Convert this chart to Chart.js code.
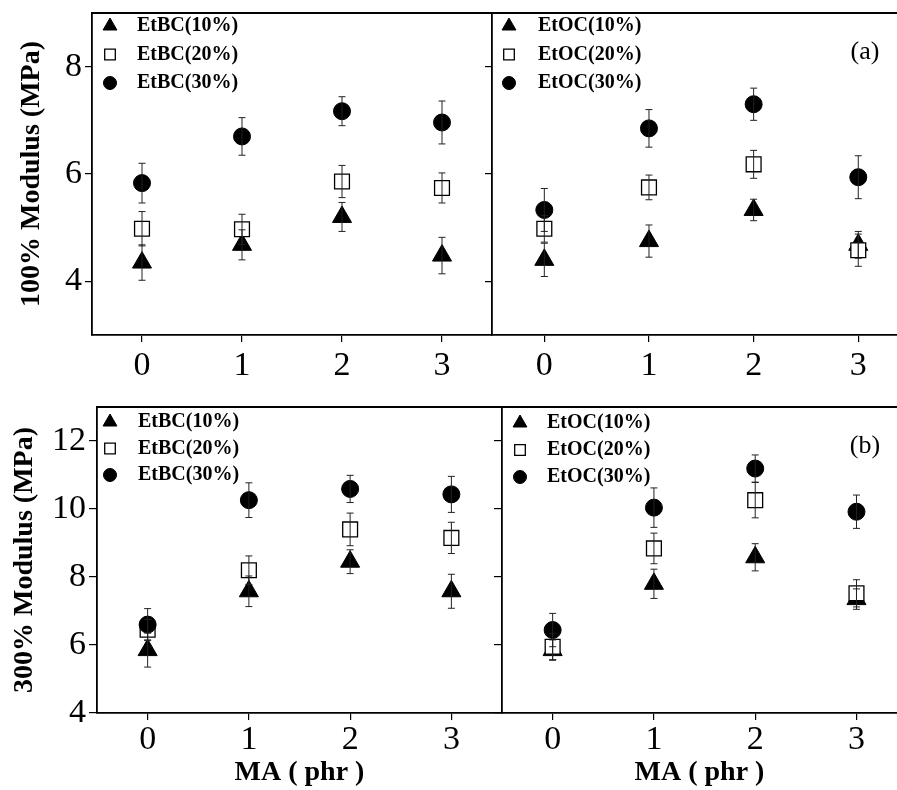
<!DOCTYPE html>
<html>
<head>
<meta charset="utf-8">
<script src="https://cdn.jsdelivr.net/npm/chart.js"></script>
<style>
  body { margin: 0; background: #fff; }
  #wrap { position: relative; width: 897px; height: 790px; overflow: hidden; background: #fff; }
  canvas { position: absolute; }
</style>
</head>
<body>
<div id="wrap">
  <canvas id="chartTL" width="500" height="385" style="left:0;top:0"></canvas>
  <canvas id="chartTR" width="457" height="385" style="left:440px;top:0"></canvas>
  <canvas id="chartBL" width="510" height="405" style="left:0;top:385px"></canvas>
  <canvas id="chartBR" width="457" height="405" style="left:440px;top:385px"></canvas>
</div>
<script>
// MA content (phr)
const maLevels = [0, 1, 2, 3];
const xTicks = [0, 1, 2, 3];
const ticks100 = [4, 6, 8];
const ticks300 = [4, 6, 8, 10, 12];

const etbcLabels = ["EtBC(10%)", "EtBC(20%)", "EtBC(30%)"];
const etocLabels = ["EtOC(10%)", "EtOC(20%)", "EtOC(30%)"];

// 100% modulus (MPa), EtBC
const etbc100_10 = [4.35, 4.68, 5.2, 4.48];
const etbc100_10Err = [0.33, 0.28, 0.27, 0.34];
const etbc100_20 = [4.98, 4.97, 5.86, 5.74];
const etbc100_20Err = [0.32, 0.28, 0.3, 0.28];
const etbc100_30 = [5.83, 6.7, 7.17, 6.96];
const etbc100_30Err = [0.37, 0.35, 0.27, 0.4];

// 100% modulus (MPa), EtOC
const etoc100_10 = [4.4, 4.75, 5.33, 4.68];
const etoc100_10Err = [0.31, 0.3, 0.2, 0.25];
const etoc100_20 = [4.98, 5.75, 6.18, 4.58];
const etoc100_20Err = [0.25, 0.23, 0.26, 0.3];
const etoc100_30 = [5.33, 6.85, 7.3, 5.94];
const etoc100_30Err = [0.4, 0.35, 0.3, 0.4];

// 300% modulus (MPa), EtBC
const etbc300_10 = [5.85, 7.58, 8.45, 7.58];
const etbc300_10Err = [0.5, 0.45, 0.35, 0.5];
const etbc300_20 = [6.45, 8.2, 9.4, 9.15];
const etbc300_20Err = [0.3, 0.42, 0.48, 0.46];
const etbc300_30 = [6.6, 10.26, 10.59, 10.43];
const etbc300_30Err = [0.47, 0.51, 0.4, 0.53];

// 300% modulus (MPa), EtOC
const etoc300_10 = [5.85, 7.8, 8.58, 7.35];
const etoc300_10Err = [0.3, 0.43, 0.4, 0.3];
const etoc300_20 = [5.95, 8.84, 10.26, 7.52];
const etoc300_20Err = [0.38, 0.45, 0.52, 0.4];
const etoc300_30 = [6.44, 10.04, 11.19, 9.92];
const etoc300_30Err = [0.49, 0.58, 0.4, 0.49];

Chart.defaults.font.family = "'Liberation Serif', 'Times New Roman', serif";
Chart.defaults.color = "#000";

const markers = [
  { pointStyle: "triangle", radius: 11, legendRadius: 8, bg: "#000", border: 1 },
  { pointStyle: "rect", radius: 10.5, legendRadius: 7.5, bg: "#fff", border: 1.3 },
  { pointStyle: "circle", radius: 8.5, legendRadius: 6.5, bg: "#000", border: 1 },
];

function makeDatasets(labels, values, errors) {
  return labels.map((label, i) => ({
    label: label,
    data: maLevels.map((x, j) => ({ x: x, y: values[i][j] })),
    errors: errors[i],
    pointStyle: markers[i].pointStyle,
    pointRadius: markers[i].radius,
    legendRadius: markers[i].legendRadius,
    pointBackgroundColor: markers[i].bg,
    pointBorderColor: "#000",
    pointBorderWidth: markers[i].border,
    order: 3 - i,
  }));
}

// vertical error bars with caps
const errorBars = {
  id: "errorBars",
  afterDatasetsDraw(chart) {
    const ctx = chart.ctx;
    const xs = chart.scales.x;
    const ys = chart.scales.y;
    ctx.save();
    ctx.strokeStyle = "#222";
    ctx.lineWidth = 1;
    chart.data.datasets.forEach((ds) => {
      ds.data.forEach((p, j) => {
        const e = ds.errors[j];
        const px = xs.getPixelForValue(p.x);
        const top = ys.getPixelForValue(p.y + e);
        const bot = ys.getPixelForValue(p.y - e);
        ctx.beginPath();
        ctx.moveTo(px, top);
        ctx.lineTo(px, bot);
        ctx.moveTo(px - 3.5, top);
        ctx.lineTo(px + 3.5, top);
        ctx.moveTo(px - 3.5, bot);
        ctx.lineTo(px + 3.5, bot);
        ctx.stroke();
      });
    });
    ctx.restore();
  },
};

// legend inside the plot, top frame line and panel tag
const innerLegend = {
  id: "innerLegend",
  afterDraw(chart, args, opts) {
    const ctx = chart.ctx;
    const area = chart.chartArea;
    ctx.save();
    ctx.strokeStyle = "#000";
    ctx.lineWidth = 1.8;
    ctx.beginPath();
    ctx.moveTo(area.left, area.top);
    ctx.lineTo(area.right, area.top);
    ctx.stroke();

    ctx.font = "bold 20px 'Liberation Serif'";
    ctx.textBaseline = "middle";
    chart.data.datasets.forEach((ds, i) => {
      const y = area.top + opts.top + i * opts.rowGap;
      ctx.fillStyle = ds.pointBackgroundColor;
      ctx.strokeStyle = "#000";
      ctx.lineWidth = ds.pointBorderWidth;
      Chart.helpers.drawPoint(ctx, {
        pointStyle: ds.pointStyle,
        radius: ds.legendRadius,
        borderWidth: ds.pointBorderWidth,
        rotation: 0,
      }, area.left + opts.markerX, y);
      ctx.fillStyle = "#000";
      ctx.fillText(ds.label, area.left + opts.textX, y);
    });
    if (opts.tag) {
      ctx.font = "26px 'Liberation Serif'";
      ctx.textAlign = "center";
      ctx.fillText(opts.tag, area.right - 32, area.top + 39);
    }
    ctx.restore();
  },
};

function makeChart(id, p) {
  return new Chart(document.getElementById(id).getContext("2d"), {
    type: "scatter",
    data: { datasets: p.datasets },
    plugins: [errorBars, innerLegend],
    options: {
      responsive: false,
      animation: false,
      events: [],
      layout: {
        autoPadding: false,
        padding: { top: p.padTop, right: p.padRight, left: 0, bottom: 0 },
      },
      plugins: {
        legend: { display: false },
        tooltip: { enabled: false },
        innerLegend: p.legend,
      },
      scales: {
        x: {
          type: "linear",
          min: -0.5,
          max: p.xMax,
          afterBuildTicks: (s) => { s.ticks = xTicks.map((v) => ({ value: v })); },
          afterFit: (s) => {
            s.height = p.xHeight;
            s.paddingLeft = 0;
            s.paddingRight = 0;
          },
          ticks: { font: { size: 34 }, padding: p.xPad, maxRotation: 0 },
          grid: { drawOnChartArea: false, drawTicks: true, tickLength: 7, color: "#000", lineWidth: 1.2 },
          border: { display: true, color: "#000", width: 1.8 },
          title: {
            display: !!p.xTitle,
            text: p.xTitle || "",
            font: { size: 28, weight: "bold" },
            padding: 0,
          },
        },
        y: {
          type: "linear",
          min: p.yMin,
          max: p.yMax,
          afterBuildTicks: (s) => { s.ticks = p.yTicks.map((v) => ({ value: v })); },
          afterFit: (s) => {
            s.width = p.yWidth;
            s.paddingTop = 0;
            s.paddingBottom = 0;
          },
          ticks: { display: !!p.yTitle, font: { size: 34 }, padding: 3 },
          grid: { drawOnChartArea: false, drawTicks: true, tickLength: p.yTickLen, color: "#000", lineWidth: 1.2 },
          border: { display: true, color: "#000", width: 1.8 },
          title: {
            display: !!p.yTitle,
            text: p.yTitle || "",
            font: { size: 28, weight: "bold" },
            padding: { top: p.yTitlePad, bottom: 0 },
          },
        },
      },
    },
  });
}

// Top left: 100% modulus, EtBC
let chartTL = makeChart("chartTL", {
  datasets: makeDatasets(etbcLabels, [etbc100_10, etbc100_20, etbc100_30], [etbc100_10Err, etbc100_20Err, etbc100_30Err]),
  padTop: 13, padRight: 8, xMax: 3.5, xHeight: 50, xPad: 4,
  yMin: 3, yMax: 9, yTicks: ticks100, yWidth: 92, yTickLen: 7,
  yTitle: "100% Modulus (MPa)", yTitlePad: 15,
  legend: { markerX: 18, textX: 45, top: 13, rowGap: 28.5 },
});

// Top right: 100% modulus, EtOC
let chartTR = makeChart("chartTR", {
  datasets: makeDatasets(etocLabels, [etoc100_10, etoc100_20, etoc100_30], [etoc100_10Err, etoc100_20Err, etoc100_30Err]),
  padTop: 13, padRight: 0, xMax: 3.37, xHeight: 50, xPad: 4,
  yMin: 3, yMax: 9, yTicks: ticks100, yWidth: 52, yTickLen: 7,
  legend: { markerX: 17, textX: 46, top: 13, rowGap: 28.5, tag: "(a)" },
});

// Bottom left: 300% modulus, EtBC
let chartBL = makeChart("chartBL", {
  datasets: makeDatasets(etbcLabels, [etbc300_10, etbc300_20, etbc300_30], [etbc300_10Err, etbc300_20Err, etbc300_30Err]),
  padTop: 22, padRight: 8, xMax: 3.5, xHeight: 77, xPad: 0, xTitle: "MA ( phr )",
  yMin: 4, yMax: 13, yTicks: ticks300, yWidth: 97, yTickLen: 8,
  yTitle: "300% Modulus (MPa)", yTitlePad: 8,
  legend: { markerX: 13, textX: 41, top: 15, rowGap: 26.5 },
});

// Bottom right: 300% modulus, EtOC
let chartBR = makeChart("chartBR", {
  datasets: makeDatasets(etocLabels, [etoc300_10, etoc300_20, etoc300_30], [etoc300_10Err, etoc300_20Err, etoc300_30Err]),
  padTop: 22, padRight: 0, xMax: 3.4, xHeight: 77, xPad: 0, xTitle: "MA ( phr )",
  yMin: 4, yMax: 13, yTicks: ticks300, yWidth: 62, yTickLen: 8,
  legend: { markerX: 18, textX: 45, top: 16, rowGap: 27, tag: "(b)" },
});
</script>
</body>
</html>
